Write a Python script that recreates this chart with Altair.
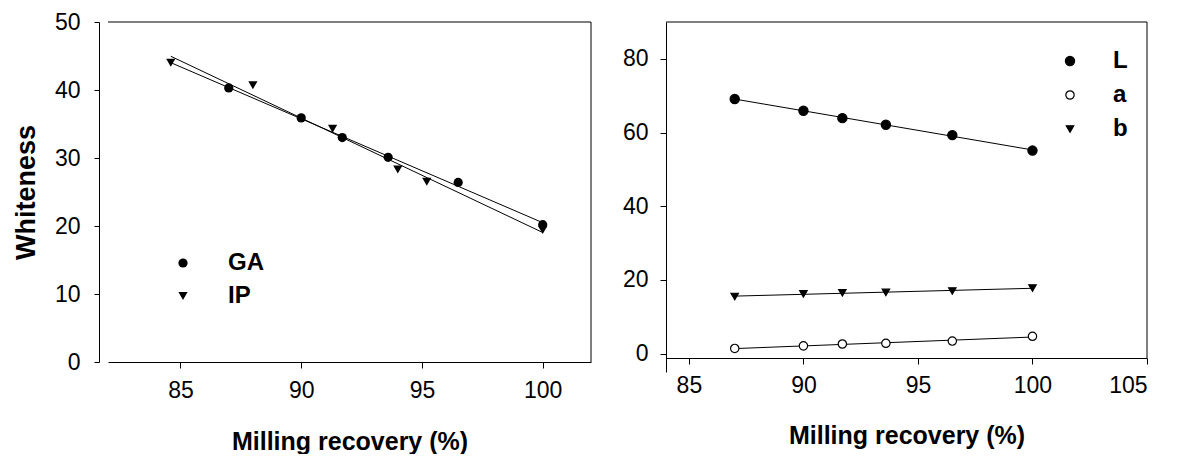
import altair as alt
import pandas as pd

FONT = "Liberation Sans"

# ---------------- Left panel data (Whiteness) ----------------
ga_x = [87.0, 90.0, 91.7, 93.6, 96.5, 100.0]
ga_y = [40.3, 35.9, 33.0, 30.1, 26.4, 20.2]
ip_x = [84.6, 88.0, 91.3, 94.0, 95.2, 100.0]
ip_y = [44.0, 40.7, 34.3, 28.3, 26.5, 19.4]
left_series = ["GA", "IP"]
left_shapes = ["circle", "triangle-down"]
left_xticks = [85, 90, 95, 100]
left_yticks = [0, 10, 20, 30, 40, 50]
left_xdom = [82, 102]
left_ydom = [0, 50]
left_fit_extent = [84.6, 100.0]

# ---------------- Right panel data (L, a, b) ----------------
rec_x = [87.0, 90.0, 91.7, 93.6, 96.5, 100.0]
L_vals = [69.1, 65.9, 63.9, 62.1, 59.3, 55.1]
a_vals = [1.4, 2.1, 2.6, 2.8, 3.4, 4.7]
b_vals = [15.5, 16.2, 16.5, 16.6, 17.0, 17.8]
right_series = ["L", "a", "b"]
right_shapes = ["circle", "circle", "triangle-down"]
right_fills = ["black", "white", "black"]
right_strokes = ["black", "black", "black"]
right_sizes = [85, 55, 85]
right_xticks = [85, 90, 95, 100, 105]
right_yticks = [0, 20, 40, 60, 80]
right_xdom = [84, 105]
right_ydom = [-5, 90]
right_xaxis_level = -1.2

left_df = pd.DataFrame({
    "rec": ga_x + ip_x,
    "white": ga_y + ip_y,
    "method": ["GA"] * len(ga_x) + ["IP"] * len(ip_x),
})
right_df = pd.DataFrame({
    "rec": rec_x * 3,
    "val": L_vals + a_vals + b_vals,
    "component": ["L"] * len(rec_x) + ["a"] * len(rec_x) + ["b"] * len(rec_x),
})
one = pd.DataFrame({"k": [0]})

# ---------------- Left panel ----------------
lx = alt.X("rec:Q", scale=alt.Scale(domain=left_xdom, nice=False, zero=False),
           axis=alt.Axis(values=left_xticks, title="Milling recovery (%)",
                         tickSize=6, labelPadding=11, titlePadding=27))
ly = alt.Y("white:Q", scale=alt.Scale(domain=left_ydom, nice=False),
           axis=alt.Axis(values=left_yticks, title="Whiteness", offset=9,
                         tickSize=5, labelPadding=14, titlePadding=14,
                         titleFontSize=27))

left_leg = alt.Legend(orient="none", legendX=63, legendY=229, title=None,
                      padding=0, labelFontSize=24, labelFontWeight="bold",
                      labelFont=FONT, labelColor="black", symbolSize=85,
                      symbolFillColor="black", symbolStrokeWidth=0,
                      symbolOpacity=1, labelOffset=33, rowPadding=9)

left_lines = alt.Chart(left_df).transform_regression(
    "rec", "white", groupby=["method"], extent=left_fit_extent
).mark_line(color="black", strokeWidth=1).encode(x=lx, y=ly, detail="method:N")

left_pts = alt.Chart(left_df).mark_point(filled=True, color="black", opacity=1, size=85).encode(
    x=lx, y=ly,
    shape=alt.Shape("method:N", scale=alt.Scale(domain=left_series, range=left_shapes),
                    legend=left_leg),
)

left_top = alt.Chart(one).mark_rule(color="black", strokeWidth=1).encode(
    x=alt.datum(left_xdom[0]), x2=alt.datum(left_xdom[1]), y=alt.datum(left_ydom[1]))
left_right = alt.Chart(one).mark_rule(color="black", strokeWidth=1).encode(
    x=alt.datum(left_xdom[1]), y=alt.datum(left_ydom[0]), y2=alt.datum(left_ydom[1]))

left = alt.layer(left_lines, left_pts, left_top, left_right).properties(width=483, height=340)

# ---------------- Right panel ----------------
rx = alt.X("rec:Q", scale=alt.Scale(domain=right_xdom, nice=False, zero=False),
           axis=alt.Axis(values=right_xticks, title="Milling recovery (%)", offset=-14,
                         tickSize=6, labelPadding=10, titlePadding=26))
ry = alt.Y("val:Q", scale=alt.Scale(domain=right_ydom, nice=False),
           axis=alt.Axis(values=right_yticks, title=None, tickSize=6, labelPadding=12))

right_leg = alt.Legend(orient="none", legendX=392, legendY=27, title=None,
                       padding=0, labelFontSize=24, labelFontWeight="bold",
                       labelFont=FONT, labelColor="black",
                       symbolStrokeColor="black", symbolStrokeWidth=1.2,
                       symbolOpacity=1, labelOffset=31, rowPadding=10)

right_lines = alt.Chart(right_df).transform_regression(
    "rec", "val", groupby=["component"]
).mark_line(color="black", strokeWidth=1).encode(x=rx, y=ry, detail="component:N")

right_pts = alt.Chart(right_df).mark_point(filled=True, strokeWidth=1.2, opacity=1).encode(
    x=rx, y=ry,
    shape=alt.Shape("component:N", scale=alt.Scale(domain=right_series, range=right_shapes),
                    legend=right_leg),
    fill=alt.Fill("component:N", scale=alt.Scale(domain=right_series, range=right_fills),
                  legend=right_leg),
    stroke=alt.Stroke("component:N", scale=alt.Scale(domain=right_series, range=right_strokes),
                      legend=right_leg),
    size=alt.Size("component:N", scale=alt.Scale(domain=right_series, range=right_sizes),
                  legend=right_leg),
)

right_top = alt.Chart(one).mark_rule(color="black", strokeWidth=1).encode(
    x=alt.datum(right_xdom[0]), x2=alt.datum(right_xdom[1]), y=alt.datum(right_ydom[1]))
right_right = alt.Chart(one).mark_rule(color="black", strokeWidth=1).encode(
    x=alt.datum(right_xdom[1]), y=alt.datum(right_xaxis_level), y2=alt.datum(right_ydom[1]))

right = alt.layer(right_lines, right_pts, right_top, right_right).properties(width=481, height=350)

chart = alt.hconcat(left, right, spacing=30).resolve_scale(
    shape="independent", fill="independent", stroke="independent", size="independent"
).properties(
    padding={"left": 4, "top": 3, "right": 5, "bottom": 0}
).configure(font=FONT).configure_view(stroke=None).configure_axis(
    labelFontSize=23, titleFontSize=25, titleFontWeight="bold",
    labelColor="black", titleColor="black", domainColor="black", tickColor="black",
    grid=False, domainWidth=1, tickWidth=1, labelFont=FONT, titleFont=FONT,
)

chart.save("out.html", embed_options={"renderer": "svg", "actions": False})
